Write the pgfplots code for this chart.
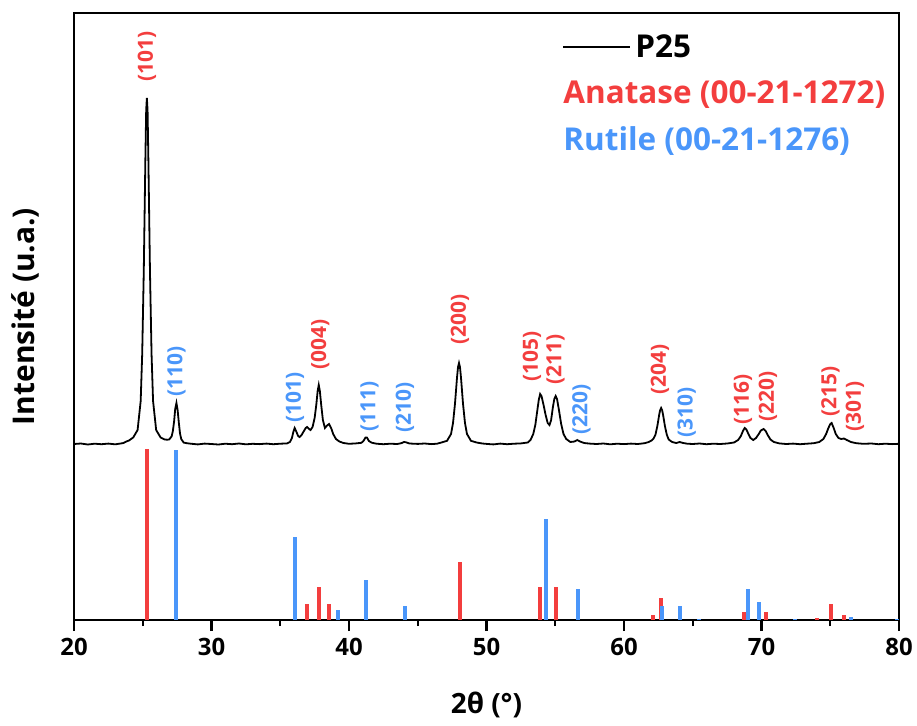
\documentclass[border=0pt]{standalone}
\usepackage{pgfplots}
\pgfplotsset{compat=1.18}
\usepackage{fontspec}
\setmainfont{Open Sans}
\definecolor{anared}{RGB}{243,62,62}
\definecolor{rutblue}{RGB}{74,150,250}
\tikzset{lbl/.style={rotate=90, anchor=west, inner sep=0pt, font=\fontsize{10.5}{12}\selectfont\bfseries}}
\begin{document}
\begin{tikzpicture}
\begin{axis}[
 scale only axis, width=412.5bp, height=303.5bp,
 xmin=20, xmax=80, ymin=0, ymax=607,
 xtick={20,30,...,80}, minor x tick num=1,
 ytick=\empty,
 xtick pos=bottom, tick align=outside,
 major tick length=5.5bp, minor tick length=3bp,
 axis line style={line width=1.2bp},
 every tick/.style={black, line width=1.2bp},
 tick label style={font=\fontsize{12}{14}\selectfont\bfseries},
 /pgf/number format/assume math mode=true,
 xlabel={2θ (°)}, ylabel={Intensité (u.a.)},
 xlabel style={font=\fontsize{14}{16}\selectfont\bfseries, at={(axis description cs:0.5,-0.140)}, anchor=center},
 ylabel style={font=\fontsize{15}{17}\selectfont\bfseries, at={(axis description cs:-0.0587,0.5)}, anchor=center},
 legend style={at={(axis cs:55.49,590)}, anchor=north west, draw=none, fill=none,
   font=\fontsize{15.8}{18}\selectfont\bfseries, row sep=6.2bp, inner sep=0pt},
 legend cell align=left,
 legend image code/.code={\draw[#1, line width=1bp] (0bp,0bp) -- (33.5bp,0bp);},
]
\addplot[black, line width=0.9bp, no marks] coordinates {
(20,176) (20.5,176.5) (21,175.5) (21.5,176.3) (22,175.8) (22.5,176.4) (23,175.7) (23.3,176.3) (23.6,177) (23.8,178.5) (24.0,179.5) (24.31,182.6) (24.625,190) (24.85,219) (24.96,266) (25.075,349) (25.19,460) (25.25,510) (25.3,522) (25.35,510) (25.41,460) (25.525,349) (25.64,266) (25.75,219) (25.975,190) (26.3,182.5) (26.6,180.5) (26.8,180.3) (26.93,180.6) (27.1,183.6) (27.19,189) (27.28,198.5) (27.36,211) (27.45,217) (27.54,209.5) (27.63,196.5) (27.71,186.5) (27.8,180.9) (27.98,177.4) (28.2,176.8) (28.5,176.3) (29,175.6) (29.5,176.4) (30,176) (30.5,175.5) (31,176.3) (31.5,175.8) (32,176.5) (32.5,175.7) (33,176.2) (33.5,175.9) (34,176.4) (34.5,175.8) (35,176.3)
(35.5,176.6) (35.7,178) (35.85,182) (35.95,188) (36.05,192) (36.15,189) (36.3,184) (36.4,183) (36.55,185) (36.7,188.5) (36.85,192) (36.95,193) (37.1,191) (37.2,190) (37.35,193) (37.5,202) (37.62,215) (37.72,229) (37.8,235) (37.88,229) (37.98,215) (38.1,200) (38.25,192) (38.4,194.5) (38.55,196) (38.7,192) (38.85,186) (39.05,181) (39.3,178.5) (39.6,177) (40,176.2) (40.5,176.6) (40.9,177.2) (41.05,179) (41.2,182.5) (41.3,182.5) (41.45,179) (41.65,177.3) (42,176.3) (42.5,175.8) (43,176.3) (43.5,176) (43.8,176.8) (44.0,178) (44.15,177.7) (44.4,176.5) (45,176.1) (45.5,176.5) (46,175.9) (46.4,176.3)
(46.72,177.5) (47.13,179.2) (47.42,186) (47.565,197) (47.71,216.5) (47.855,242.4) (47.93,253) (48.0,257) (48.07,253) (48.145,242.4) (48.29,216.5) (48.435,197) (48.58,186) (48.87,179.2) (49.28,177.5) (49.7,176.5) (50.1,176) (50.5,175.6) (51,176.4) (51.5,175.8) (52,176.3) (52.5,176.6)
(53.0,177.5) (53.2,180) (53.4,186) (53.55,195) (53.7,210) (53.8,220) (53.9,226) (54.0,224) (54.15,215) (54.3,205) (54.45,197) (54.58,195) (54.7,200) (54.82,212) (54.93,221) (55.03,224) (55.13,221) (55.28,209) (55.43,196) (55.6,186) (55.8,181) (56.1,178) (56.4,178.5) (56.6,180) (56.8,178.5) (57.1,177) (57.5,176.4) (58,176) (58.5,176.5) (59,175.7) (59.5,176.3) (60,175.9) (60.5,176.4) (61,176) (61.5,176.8)
(61.8,178) (62.0,179.5) (62.15,181.5) (62.29,185.4) (62.425,194) (62.5625,205.5) (62.63,210) (62.7,212) (62.77,210) (62.8375,205.5) (62.975,194) (63.11,185.4) (63.25,180.5) (63.5,178) (63.8,177) (64.05,178) (64.3,177) (64.6,176.3) (65,176) (65.5,176.5) (66,175.8) (66.5,176.3) (67,176) (67.5,176.5)
(68,177.5) (68.3,180) (68.5,184) (68.65,189) (68.78,192) (68.9,190.5) (69.05,186) (69.2,182) (69.4,180) (69.6,182) (69.8,186) (69.95,189.5) (70.15,191) (70.3,189) (70.45,185) (70.65,180.5) (70.9,178) (71.3,176.6) (71.8,176) (72.3,176.4) (72.8,175.8) (73.3,176.3) (73.8,176.8)
(74.2,178) (74.5,181) (74.7,186) (74.85,191.5) (75.0,196) (75.1,197) (75.25,192) (75.4,186) (75.6,182) (75.8,181) (76.0,181.5) (76.2,180) (76.5,178) (76.9,176.8) (77.4,176.2) (78,176.5) (78.5,175.8) (79,176.3) (79.5,175.9) (80,176.2)
};
\addlegendentry{P25}
\addplot[ycomb, anared, line width=2bp, no marks, forget plot] coordinates {
(25.28,171) (36.95,16) (37.80,33) (38.57,16) (48.05,58) (53.89,33) (55.06,33) (62.12,5) (62.69,22) (68.76,8) (70.31,8) (74.03,2) (75.03,16) (76.02,5)
};
\addplot[ycomb, rutblue, line width=2bp, no marks, forget plot] coordinates {
(27.45,170) (36.09,83) (39.19,10) (41.23,40) (44.05,14) (54.32,101) (56.64,31) (62.74,14) (64.04,14) (65.48,1.5) (69.01,31) (69.79,18) (72.41,1.5) (76.51,3.5) (79.82,1.5)
};
\addlegendimage{empty legend}
\addlegendentry{\hspace*{-36bp}\textcolor{anared}{Anatase (00-21-1272)}}
\addlegendimage{empty legend}
\addlegendentry{\hspace*{-36bp}\textcolor{rutblue}{Rutile (00-21-1276)}}
\node[lbl, anared] at (axis cs:25.3,538) {(101)};
\node[lbl, rutblue] at (axis cs:27.45,223) {(110)};
\node[lbl, rutblue] at (axis cs:36.07,197) {(101)};
\node[lbl, anared] at (axis cs:37.9,250) {(004)};
\node[lbl, rutblue] at (axis cs:41.5,188) {(111)};
\node[lbl, rutblue] at (axis cs:44.07,187) {(210)};
\node[lbl, anared] at (axis cs:48.07,275) {(200)};
\node[lbl, anared] at (axis cs:53.31,238) {(105)};
\node[lbl, anared] at (axis cs:55.02,235) {(211)};
\node[lbl, rutblue] at (axis cs:56.91,185) {(220)};
\node[lbl, anared] at (axis cs:62.62,225) {(204)};
\node[lbl, rutblue] at (axis cs:64.55,182) {(310)};
\node[lbl, anared] at (axis cs:68.65,195) {(116)};
\node[lbl, anared] at (axis cs:70.47,198) {(220)};
\node[lbl, anared] at (axis cs:75.02,203) {(215)};
\node[lbl, anared] at (axis cs:76.8,188) {(301)};
\end{axis}
\pgfresetboundingbox
\path[use as bounding box] ([xshift=-37bp,yshift=-52.5bp]current axis.south west) rectangle ([xshift=9bp,yshift=6.5bp]current axis.north east);
\end{tikzpicture}
\end{document}
